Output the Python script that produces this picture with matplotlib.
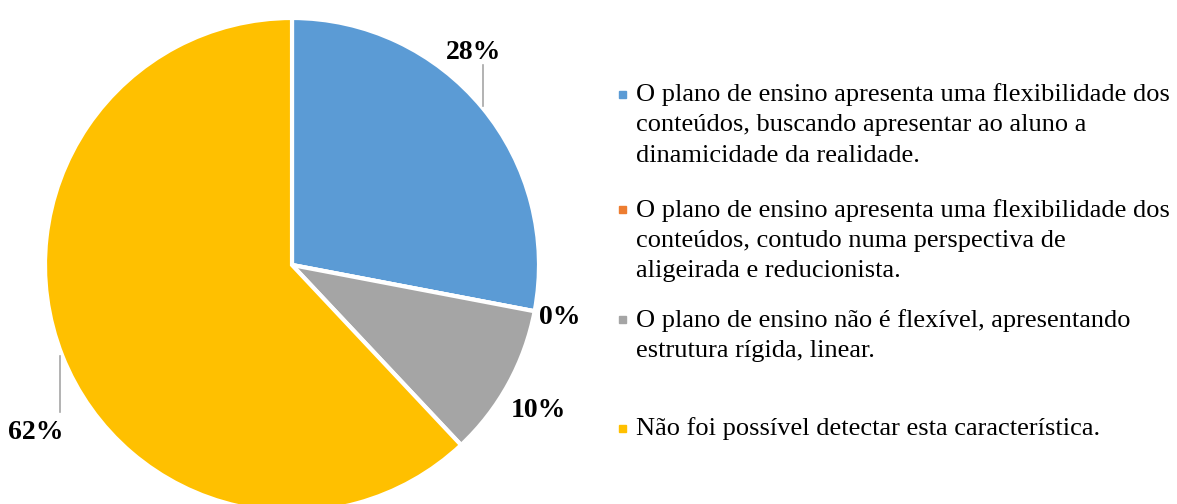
#!/usr/bin/env python3
# -*- coding: utf-8 -*-

import matplotlib.pyplot as plt

plt.rcParams["font.family"] = ["Liberation Serif", "DejaVu Serif"]

# DATA
categories = [
    "O plano de ensino apresenta uma flexibilidade dos\nconteúdos, buscando apresentar ao aluno a\ndinamicidade da realidade.",
    "O plano de ensino apresenta uma flexibilidade dos\nconteúdos, contudo numa perspectiva de\naligeirada e reducionista.",
    "O plano de ensino não é flexível, apresentando\nestrutura rígida, linear.",
    "Não foi possível detectar esta característica.",
]
values = [28, 0, 10, 62]
pct_labels = ["28%", "0%", "10%", "62%"]
colors = ["#5B9BD5", "#ED7D31", "#A5A5A5", "#FFC000"]

W, H = 1177, 504
fig = plt.figure(figsize=(W / 100, H / 100), dpi=100)

# pie axes: centre (292, 265) px, radius 247 px
cx, cy, r = 292, 265, 247
ax = fig.add_axes([(cx - r) / W, (H - cy - r) / H, 2 * r / W, 2 * r / H])
ax.pie(values, colors=colors, startangle=90, counterclock=False, radius=1,
       wedgeprops=dict(edgecolor="white", linewidth=3))
ax.set_xlim(-1, 1)
ax.set_ylim(-1, 1)
ax.set_aspect("equal")
ax.axis("off")


def px(x, y):
    # pixel -> pie data coords
    return (x - cx) / r, (cy - y) / r


# percentage labels (centre x, baseline y in pixels)
label_px = [(473.5, 59), (560, 324), (538, 417), (36, 439)]
for txt, (x, y) in zip(pct_labels, label_px):
    ax.text(*px(x, y), txt, ha="center", va="baseline", fontsize=20,
            fontweight="bold", clip_on=False)

# leader lines
for (x0, y0), (x1, y1) in [((483, 65), (483, 106)), ((60, 356), (60, 412))]:
    a, b = px(x0, y0)
    c, d = px(x1, y1)
    ax.plot([a, c], [b, d], color="#A6A6A6", lw=1.2, clip_on=False)

# legend, drawn by hand to match the slot layout (one text per line)
legend_y = [94.5, 209.5, 319.5, 428]
line_gap = 30
for lab, col, y in zip(categories, colors, legend_y):
    fig.patches.append(plt.Rectangle((619 / W, 1 - (y + 3.5) / H), 7 / W, 7 / H,
                                     transform=fig.transFigure, color=col))
    for i, line in enumerate(lab.split("\n")):
        fig.text(636 / W, 1 - (y + 7 + i * line_gap) / H, line,
                 ha="left", va="baseline", fontsize=19)

plt.savefig("out.png", dpi=100)
plt.close()
